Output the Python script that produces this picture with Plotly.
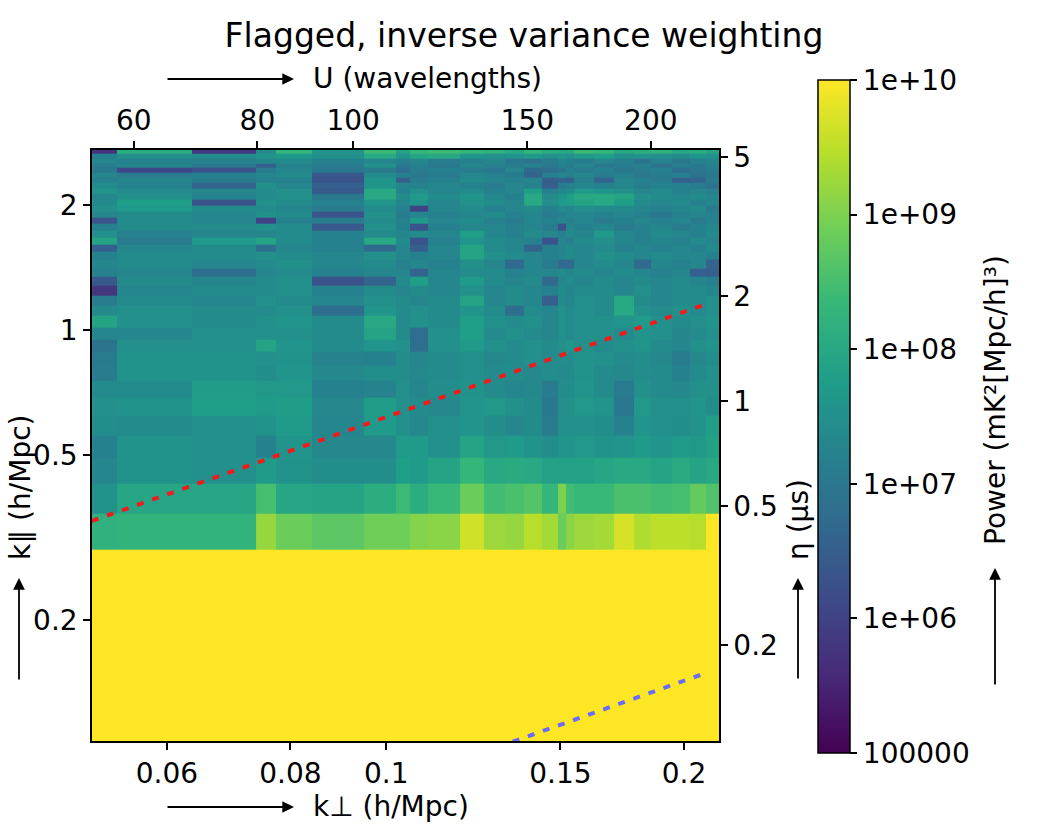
import plotly.graph_objects as go

# ---------------- data ----------------
# k_perp bin edges (h/Mpc)
kperp_edges = [0.0504, 0.0534, 0.0636, 0.0738, 0.0774, 0.0841, 0.0949, 0.1023,
               0.1057, 0.1102, 0.1187, 0.1256, 0.1318, 0.1378, 0.1437, 0.1492,
               0.1520, 0.1548, 0.1622, 0.1699, 0.1780, 0.1852, 0.1945, 0.2028,
               0.2105, 0.2170]
# k_par bin edges (h/Mpc)
kpar_edges = [0.0983, 0.1638, 0.2293, 0.2948, 0.3603, 0.4258, 0.4913, 0.5568,
              0.6223, 0.6878, 0.7533, 0.8188, 0.8843, 0.9498, 1.0153, 1.0808,
              1.1463, 1.2118, 1.2773, 1.3428, 1.4083, 1.4738, 1.5393, 1.6048,
              1.6703, 1.7358, 1.8013, 1.8668, 1.9323, 1.9978, 2.0633, 2.1288,
              2.1943, 2.2598, 2.3253, 2.3908, 2.4563, 2.5218, 2.5873, 2.6528,
              2.7183]

# log10 power, rows listed from top (highest k_par) to bottom
log_power_rows_top_down = [
    [5.7, 8.1, 5.8, 7.4, 8.3, 7.6, 8.4, 7.9, 8.3, 8.4, 8.3, 8.2, 8.0, 8.3, 8.1, 8.0, 8.0, 8.4, 8.3, 8.0, 8.1, 8.2, 8.0, 8.1, 7.9],
    [7.2, 7.5, 7.4, 7.6, 7.7, 7.5, 8.0, 7.6, 7.9, 8.0, 7.6, 7.5, 7.6, 7.7, 7.5, 7.6, 7.5, 7.7, 7.8, 7.5, 7.6, 7.5, 7.4, 7.6, 7.5],
    [7.3, 7.2, 7.2, 7.3, 7.4, 7.2, 7.3, 7.2, 7.3, 7.1, 7.2, 7.3, 7.0, 6.9, 7.1, 7.3, 7.2, 7.1, 7.3, 7.2, 6.9, 7.2, 7.0, 7.2, 7.3],
    [7.1, 7.3, 7.0, 6.5, 7.2, 7.1, 7.5, 7.0, 7.2, 7.0, 7.3, 7.2, 7.1, 7.2, 7.0, 7.2, 7.1, 7.3, 7.0, 7.1, 7.2, 6.9, 7.1, 7.0, 7.2],
    [7.0, 6.1, 6.3, 7.1, 7.3, 7.0, 7.1, 6.8, 7.1, 7.2, 7.1, 7.0, 7.3, 6.7, 6.8, 7.0, 7.2, 7.1, 7.2, 7.0, 7.1, 7.2, 6.8, 7.0, 7.1],
    [7.3, 7.1, 7.2, 7.3, 7.4, 6.4, 7.4, 7.2, 7.0, 7.1, 7.3, 7.2, 7.1, 6.6, 7.2, 7.3, 7.2, 7.3, 7.1, 7.2, 7.0, 7.1, 7.2, 6.9, 7.0],
    [7.2, 7.3, 7.1, 7.2, 7.2, 6.3, 7.6, 6.5, 7.1, 7.2, 7.4, 7.3, 7.2, 7.3, 6.5, 6.6, 6.5, 7.2, 6.6, 7.3, 7.2, 7.1, 6.5, 6.6, 7.1],
    [7.4, 7.2, 6.6, 7.5, 7.3, 6.5, 7.6, 7.3, 7.2, 7.3, 7.2, 7.1, 7.3, 7.2, 6.5, 7.1, 7.2, 7.3, 7.2, 7.3, 7.1, 7.2, 7.2, 7.1, 6.9],
    [7.6, 7.4, 7.3, 7.4, 7.5, 6.4, 8.0, 7.2, 7.5, 7.3, 7.4, 7.2, 7.3, 7.8, 7.2, 7.3, 7.4, 7.7, 7.6, 7.5, 7.3, 7.4, 7.2, 7.3, 7.2],
    [7.3, 7.5, 7.2, 7.4, 7.5, 7.0, 8.0, 7.4, 7.7, 7.4, 7.6, 7.3, 7.2, 8.0, 7.4, 7.6, 7.8, 8.0, 8.0, 7.9, 7.5, 7.4, 7.3, 7.4, 7.3],
    [7.4, 7.8, 6.3, 7.5, 7.4, 7.2, 7.6, 7.3, 7.6, 7.3, 7.5, 7.4, 7.3, 8.0, 7.5, 7.7, 7.8, 7.9, 8.0, 7.8, 7.4, 7.3, 7.4, 7.2, 7.3],
    [7.5, 7.7, 7.4, 7.4, 7.3, 7.1, 7.4, 7.2, 6.0, 7.3, 7.4, 7.2, 7.3, 7.4, 7.2, 7.4, 7.3, 7.5, 7.4, 7.4, 7.3, 7.2, 7.3, 7.4, 7.1],
    [7.3, 7.4, 7.3, 7.5, 7.4, 6.3, 7.5, 7.1, 7.3, 7.2, 7.3, 7.4, 7.2, 7.3, 7.1, 7.2, 7.3, 7.3, 7.2, 7.3, 7.2, 7.0, 7.2, 7.3, 7.2],
    [6.3, 7.4, 7.3, 6.0, 7.2, 7.1, 7.4, 7.2, 7.7, 7.3, 7.4, 7.2, 7.1, 7.3, 7.2, 7.3, 7.2, 7.3, 7.1, 7.2, 7.3, 7.2, 7.3, 7.1, 7.2],
    [7.2, 7.4, 7.4, 7.5, 7.4, 6.4, 7.5, 7.2, 6.3, 7.2, 7.3, 7.3, 7.2, 7.3, 7.1, 6.3, 7.3, 7.2, 7.3, 7.1, 7.2, 7.3, 7.1, 7.2, 7.3],
    [7.5, 7.2, 7.3, 7.3, 7.4, 7.2, 7.4, 7.3, 7.4, 7.3, 7.8, 7.3, 7.2, 7.4, 7.3, 7.2, 7.4, 7.3, 7.7, 7.3, 7.2, 7.4, 7.3, 7.2, 7.4],
    [7.9, 7.1, 7.7, 7.9, 7.4, 7.2, 8.0, 7.4, 6.3, 7.2, 7.6, 7.4, 7.3, 7.2, 6.3, 7.3, 7.2, 7.4, 7.5, 7.3, 7.2, 7.3, 7.2, 7.4, 7.3],
    [6.5, 7.3, 7.4, 6.8, 7.3, 7.2, 6.7, 7.3, 6.5, 7.3, 7.9, 7.4, 7.3, 6.6, 7.2, 7.3, 7.4, 7.3, 7.4, 7.2, 7.3, 7.2, 7.3, 7.2, 7.4],
    [7.2, 7.4, 7.4, 7.5, 7.4, 7.3, 7.5, 7.3, 7.2, 7.3, 7.9, 7.5, 7.4, 7.3, 7.2, 7.3, 7.4, 7.3, 7.5, 7.4, 7.3, 7.4, 7.3, 7.3, 7.2],
    [7.3, 7.4, 7.3, 7.4, 7.5, 7.3, 7.4, 7.2, 7.3, 7.2, 7.5, 7.3, 6.7, 7.3, 7.1, 6.7, 6.7, 7.3, 7.4, 7.3, 6.7, 7.3, 7.2, 7.3, 6.6],
    [7.2, 7.3, 6.8, 7.3, 7.4, 7.2, 7.3, 7.3, 6.6, 7.3, 7.4, 7.4, 7.2, 7.3, 7.3, 7.4, 7.3, 7.4, 7.3, 7.4, 7.3, 7.2, 7.3, 6.5, 6.5],
    [6.4, 7.4, 7.3, 7.4, 7.5, 6.3, 6.6, 7.4, 7.8, 7.3, 7.7, 7.4, 7.3, 7.4, 6.7, 7.3, 7.4, 7.3, 7.4, 7.3, 7.4, 7.3, 7.4, 7.3, 7.2],
    [5.8, 7.3, 7.4, 7.4, 7.5, 7.2, 7.4, 7.3, 7.4, 7.3, 7.5, 7.3, 7.4, 7.3, 7.2, 7.4, 7.3, 7.4, 7.4, 7.3, 7.5, 7.3, 7.4, 7.4, 7.3],
    [7.1, 7.4, 7.3, 7.5, 7.4, 7.3, 7.5, 7.4, 7.3, 7.4, 7.9, 7.3, 7.4, 7.3, 6.5, 7.4, 7.3, 7.5, 7.4, 8.0, 7.4, 7.3, 7.4, 7.4, 7.5],
    [7.4, 7.5, 7.4, 7.4, 7.5, 6.8, 7.6, 7.4, 7.5, 7.4, 7.6, 7.4, 6.8, 7.4, 7.3, 7.5, 7.4, 7.5, 7.4, 8.0, 7.5, 7.4, 7.5, 7.4, 7.5],
    [7.9, 7.5, 7.4, 7.5, 7.6, 7.4, 8.0, 7.4, 7.5, 7.4, 7.8, 7.5, 7.4, 7.5, 7.3, 7.5, 7.4, 7.5, 7.5, 7.6, 7.7, 7.5, 7.4, 7.5, 7.6],
    [7.3, 7.3, 7.5, 7.5, 7.5, 7.4, 7.9, 7.4, 6.8, 7.5, 7.8, 7.4, 7.5, 7.4, 7.3, 7.5, 7.4, 7.5, 7.5, 7.4, 7.6, 7.5, 7.3, 7.4, 7.5],
    [6.9, 7.5, 7.5, 7.9, 7.6, 7.4, 7.6, 7.5, 6.8, 7.5, 7.7, 7.5, 7.4, 7.5, 7.4, 7.5, 7.6, 7.5, 7.4, 7.5, 7.6, 7.4, 7.3, 7.5, 7.6],
    [7.05, 7.55, 7.55, 7.5, 7.55, 7.25, 7.2, 7.45, 7.3, 7.4, 7.5, 7.35, 7.4, 7.5, 7.4, 7.45, 7.45, 7.55, 7.5, 7.4, 7.45, 7.35, 7.1, 7.35, 7.45],
    [7.1, 7.55, 7.55, 7.45, 7.6, 7.35, 7.45, 7.45, 7.35, 7.4, 7.5, 7.4, 7.45, 7.35, 7.45, 7.4, 7.4, 7.55, 7.4, 7.35, 7.45, 7.4, 7.2, 7.4, 7.5],
    [7.4, 7.4, 7.75, 7.65, 7.65, 7.2, 7.25, 7.5, 7.3, 7.45, 7.55, 7.4, 7.3, 7.35, 7.1, 7.45, 7.45, 7.6, 7.4, 7.05, 7.5, 7.4, 7.35, 7.5, 7.5],
    [7.5, 7.55, 7.8, 7.7, 7.75, 7.35, 7.75, 7.5, 7.4, 7.35, 7.6, 7.65, 7.5, 7.4, 7.0, 7.5, 7.5, 7.65, 7.6, 7.0, 7.65, 7.5, 7.5, 7.6, 7.45],
    [7.45, 7.4, 7.5, 7.55, 7.7, 7.3, 7.7, 7.5, 7.35, 7.5, 7.6, 7.45, 7.3, 7.4, 7.1, 7.5, 7.5, 7.5, 7.45, 7.2, 7.6, 7.5, 7.45, 7.55, 7.8],
    [7.2, 7.55, 7.5, 7.2, 7.6, 7.35, 7.35, 7.7, 7.7, 7.5, 7.9, 7.65, 7.7, 7.55, 7.45, 7.6, 7.6, 7.65, 7.55, 7.6, 7.7, 7.6, 7.7, 7.65, 7.85],
    [7.3, 7.55, 7.5, 7.7, 7.55, 7.45, 7.45, 7.8, 7.7, 7.9, 8.3, 8.0, 8.05, 8.0, 7.85, 7.85, 7.85, 7.85, 7.95, 8.0, 8.0, 7.9, 8.05, 7.9, 8.0],
    [7.55, 7.95, 7.95, 8.5, 7.95, 7.9, 8.1, 8.4, 8.1, 8.35, 8.85, 8.45, 8.55, 8.65, 8.3, 9.0, 8.45, 8.35, 8.35, 8.55, 8.55, 8.45, 8.5, 8.8, 8.6],
    [8.2, 8.25, 8.25, 9.2, 8.85, 8.7, 8.9, 8.9, 9.05, 9.1, 9.65, 9.25, 9.2, 9.45, 9.3, 8.85, 9.1, 9.25, 9.3, 9.7, 9.4, 9.5, 9.5, 9.45, 10.2],
    [10.4] * 25,
    [10.4] * 25,
    [10.4] * 25,
]

# horizon lines, in (U [wavelengths], eta [microseconds])
horizon_u = [54.4, 228.0]
horizon_eta = [0.453, 1.90]
beam_u = [140.0, 227.0]
beam_eta = [0.102, 0.166]

kperp_ticks = [0.06, 0.08, 0.1, 0.15, 0.2]
kpar_ticks = [0.2, 0.5, 1, 2]
u_ticks = [60, 80, 100, 150, 200]
eta_ticks = [0.2, 0.5, 1, 2, 5]
cbar_ticks = [5, 6, 7, 8, 9, 10]
cbar_labels = ["100000", "1e+06", "1e+07", "1e+08", "1e+09", "1e+10"]

# ---------------- layout helpers ----------------
W, H = 1042, 834
L, R, T, B = 92, 719, 150, 741
FONT = "DejaVu Sans"
FS = 28


def px(x):
    return (x - L) / (R - L)


def py(y):
    return (B - y) / (B - T)


z = log_power_rows_top_down[::-1]

fig = go.Figure()
fig.add_trace(go.Heatmap(
    x=kperp_edges, y=kpar_edges, z=z,
    colorscale="Viridis", zmin=5, zmax=10,
    xaxis="x", yaxis="y", hoverinfo="skip",
    colorbar=dict(
        x=px(818), xanchor="left", xpad=0,
        y=py(416.5), yanchor="middle", ypad=0,
        len=673, lenmode="pixels", thickness=32,
        outlinewidth=1.5, outlinecolor="black",
        tickvals=cbar_ticks, ticktext=cbar_labels,
        ticks="outside", ticklen=7, tickwidth=1.5, tickcolor="black",
        tickfont=dict(family=FONT, size=FS, color="black"),
    ),
))

fig.add_trace(go.Scatter(
    x=horizon_u, y=horizon_eta, xaxis="x2", yaxis="y2", mode="lines",
    line=dict(color="#ee1c1c", width=4, dash="7px,9px"), hoverinfo="skip",
    showlegend=False,
))
fig.add_trace(go.Scatter(
    x=beam_u, y=beam_eta, xaxis="x2", yaxis="y2", mode="lines",
    line=dict(color="#6b6bf7", width=4, dash="7px,9px"), hoverinfo="skip",
    showlegend=False,
))

axis_common = dict(
    type="log", showgrid=False, zeroline=False, showline=True,
    linecolor="black", linewidth=1.5, ticks="outside", ticklen=7,
    tickwidth=1.5, tickcolor="black",
    tickfont=dict(family=FONT, size=FS, color="black"),
)

fig.update_layout(
    width=W, height=H,
    margin=dict(l=L, r=W - R, t=T, b=H - B, pad=0),
    paper_bgcolor="white", plot_bgcolor="white",
    showlegend=False,
    font=dict(family=FONT, size=FS, color="black"),
    title=dict(text="Flagged, inverse variance weighting", x=524 / W,
               xref="container", xanchor="center", y=1 - 35 / H,
               yref="container", yanchor="middle",
               font=dict(family=FONT, size=33, color="black")),
    xaxis=dict(axis_common, range=[-1.2976, -0.6636], tickvals=kperp_ticks,
               ticktext=[str(v) for v in kperp_ticks], anchor="y",
               domain=[0, 1]),
    yaxis=dict(axis_common, range=[-0.9906, 0.4335], tickvals=kpar_ticks,
               ticktext=[str(v) for v in kpar_ticks], anchor="x",
               domain=[0, 1]),
    xaxis2=dict(axis_common, range=[1.7358, 2.3700], tickvals=u_ticks,
                ticktext=[str(v) for v in u_ticks], overlaying="x",
                side="top", anchor="y"),
    yaxis2=dict(axis_common, range=[-0.974, 0.719], tickvals=eta_ticks,
                ticktext=[str(v) for v in eta_ticks], overlaying="y",
                side="right", anchor="x"),
)

ann = []
tf = dict(family=FONT, size=FS, color="black")


def arrow(hx, hy, ax, ay):
    ann.append(dict(x=px(hx), y=py(hy), xref="paper", yref="paper", text="",
                    showarrow=True, ax=ax, ay=ay, arrowhead=2, arrowsize=1.3,
                    arrowwidth=1.8, arrowcolor="black", standoff=0,
                    startstandoff=0))


# top: U (wavelengths)
ann.append(dict(x=px(311), y=py(78), xref="paper", yref="paper",
                text="U (wavelengths)", showarrow=False, xanchor="left",
                yanchor="middle", font=tf))
arrow(294, 79, -128, 0)
# bottom: k_perp
ann.append(dict(x=px(311), y=py(806), xref="paper", yref="paper",
                text="k⊥ (h/Mpc)", showarrow=False, xanchor="left",
                yanchor="middle", font=tf))
arrow(294, 807, -128, 0)
# left: k_par
ann.append(dict(x=px(20), y=py(488), xref="paper", yref="paper",
                text="k∥ (h/Mpc)", showarrow=False, textangle=-90,
                xanchor="center", yanchor="middle", font=tf))
arrow(19, 578, 0, 103)
# right: eta
ann.append(dict(x=px(798), y=py(520), xref="paper", yref="paper",
                text="η (µs)", showarrow=False, textangle=-90,
                xanchor="center", yanchor="middle", font=tf))
arrow(798, 578, 0, 102)
# colorbar label
ann.append(dict(x=px(995), y=py(400), xref="paper", yref="paper",
                text="Power (mK²[Mpc/h]³)", showarrow=False, textangle=-90,
                xanchor="center", yanchor="middle", font=tf))
arrow(995, 568, 0, 118)

fig.update_layout(annotations=ann)
fig.write_html("out.html")
